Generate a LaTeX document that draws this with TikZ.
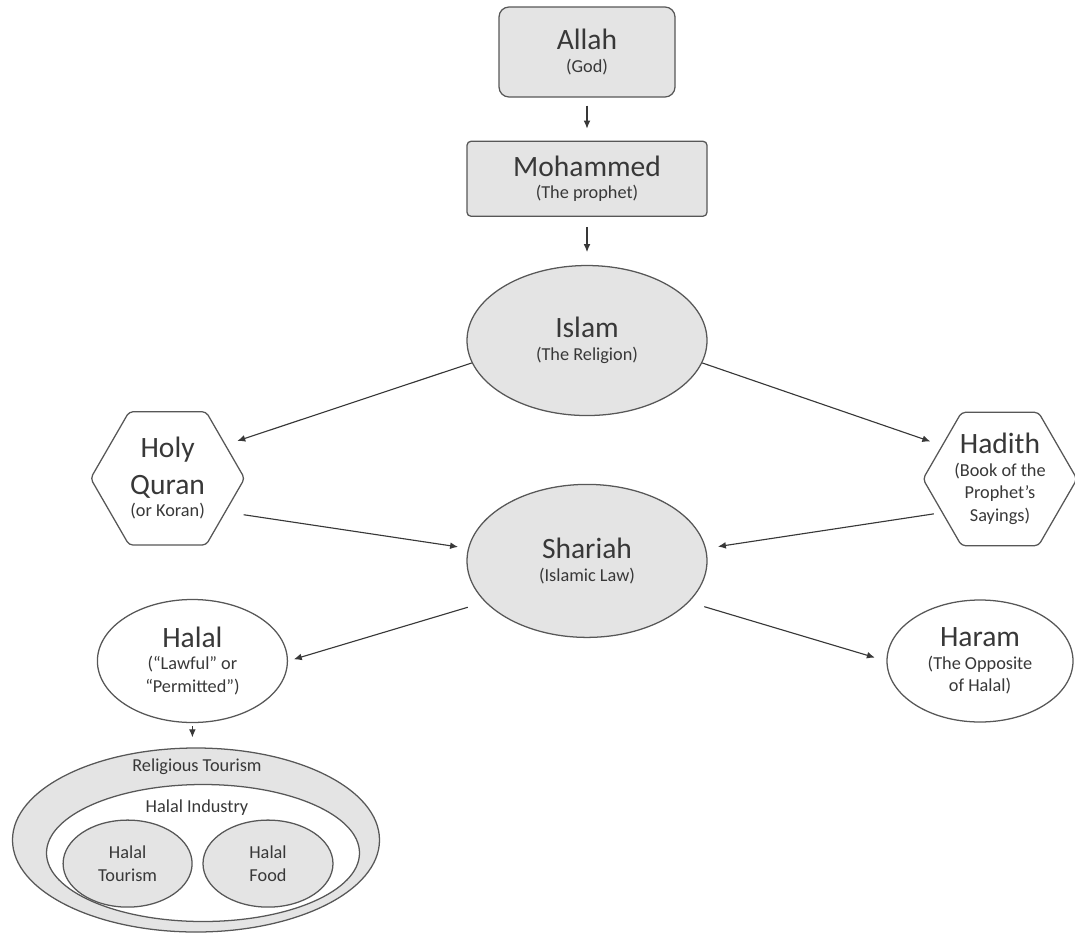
\documentclass[tikz,border=0pt]{standalone}
\usepackage{fontspec}
\setmainfont{Carlito}
\usepackage{xcolor}
\usepackage{tikz}
\usetikzlibrary{positioning, shapes, arrows.meta, calc}

\definecolor{boxfill}{HTML}{E4E4E4}
\definecolor{linegray}{HTML}{575757}
\definecolor{txtgray}{HTML}{383838}

\newcommand{\hd}[1]{{\fontsize{21}{21}\selectfont #1}}

\begin{document}
\begin{tikzpicture}[
    every node/.style={font=\fontsize{13}{16}\selectfont, text=txtgray, align=center},
    card/.style={draw=linegray, line width=0.9pt, fill=boxfill, rectangle},
    oval/.style={draw=linegray, line width=0.9pt, ellipse, inner sep=0pt},
    hexa/.style={draw=linegray, line width=0.9pt, regular polygon, regular polygon sides=6,
                 minimum size=3.85cm, inner sep=0pt, rounded corners=0.1cm, fill=white},
    arr/.style={-{Latex[length=2mm, width=1.7mm]}, draw=txtgray, line width=0.8pt}
  ]
      \useasboundingbox (0,0) rectangle (26.875,-23.35);

      % Top chain
      \node[card, rounded corners=0.25cm, minimum width=4.4cm, minimum height=2.25cm] (allah) at (14.675,-1.3) {
        \hd{Allah}\\(God)
      };
      \node[card, rounded corners=0.1cm, minimum width=6cm, minimum height=1.875cm, below=1.075cm of allah] (moham) {
        \hd{Mohammed}\\(The prophet)
      };
      \node[oval, fill=boxfill, minimum width=6cm, minimum height=3.75cm, below=1.2cm of moham] (islam) {
        \hd{Islam}\\(The Religion)
      };

      % Sources
      \node[hexa] (quran) at (4.19,-11.96) {\hd{Holy}\\[8pt]\hd{Quran}\\(or Koran)};
      \node[hexa] (hadith) at (25.0,-11.975) {\hd{Hadith}\\(Book of the\\Prophet’s\\Sayings)};

      % Law
      \node[oval, fill=boxfill, minimum width=6cm, minimum height=3.825cm, below=1.69cm of islam] (shariah) {
        \hd{Shariah}\\(Islamic Law)
      };

      \node[oval, fill=white, minimum width=4.75cm, minimum height=3.075cm] (halal) at (4.81,-16.525) {
        \hd{Halal}\\(“Lawful” or\\“Permitted”)
      };
      \node[oval, fill=white, minimum width=4.65cm, minimum height=3.05cm] (haram) at (24.5,-16.525) {
        \hd{Haram}\\(The Opposite\\of Halal)
      };

      % Nested ellipses
      \node[oval, fill=boxfill, minimum width=9.175cm, minimum height=4.6cm] (outer) at (4.9,-21.0) {};
      \node[oval, fill=white, minimum width=7.825cm, minimum height=3.425cm] (inner) at (5.075,-21.325) {};
      \node[oval, fill=boxfill, minimum width=3.225cm, minimum height=2.175cm] (tourism) at (3.19,-21.59) {Halal\\Tourism};
      \node[oval, fill=boxfill, minimum width=3.25cm, minimum height=2.175cm] (food) at (6.7,-21.59) {Halal\\Food};
      \node (reltxt) at (4.925,-19.175) {Religious Tourism};
      \node (indtxt) at (4.925,-20.2) {Halal Industry};

      % Arrows
      \draw[arr, shorten <=0.2cm, shorten >=0.3cm] (allah) -- (moham);
      \draw[arr, shorten <=0.25cm, shorten >=0.32cm] (moham) -- (islam);
      \draw[arr, shorten >=0.3cm] (islam.191) -- (quran.30);
      \draw[arr, shorten >=0.3cm] (islam.-11) -- (hadith.150);
      \draw[arr, shorten <=0.45cm, shorten >=0.25cm] (quran.-30) -- (shariah.174);
      \draw[arr, shorten <=0.2cm, shorten >=0.3cm] (hadith.210) -- (shariah.6);
      \draw[arr, shorten <=0.45cm, shorten >=0.15cm] (shariah.202) -- (halal.east);
      \draw[arr, shorten <=0.4cm, shorten >=0.3cm] (shariah.-22) -- (haram.west);
      \draw[arr, shorten <=0.08cm, shorten >=0.25cm] (halal.south) -- (halal.south |- outer.north);
\end{tikzpicture}
\end{document}
